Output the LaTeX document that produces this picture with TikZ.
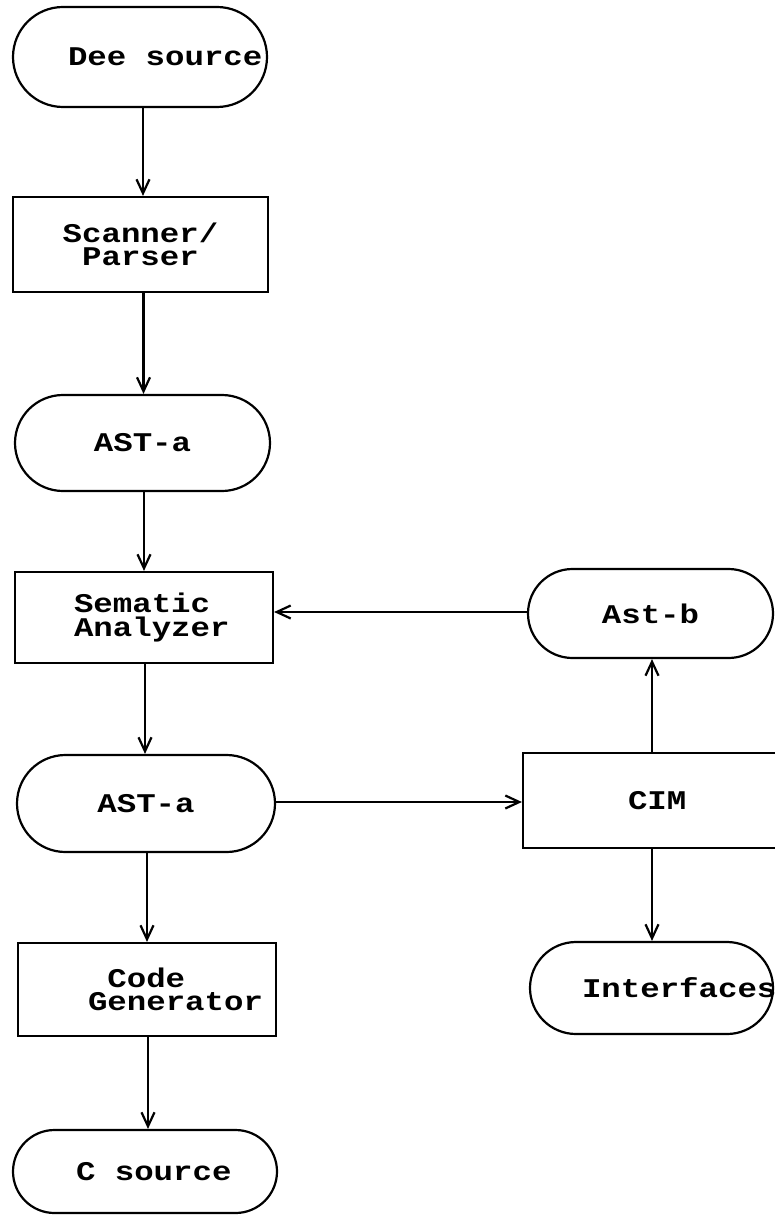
\documentclass[tikz,border=0pt]{standalone}
\usepackage{fontspec}
\newfontfamily\diafont{Liberation Mono}[FakeStretch=1.2]
\newcommand{\msp}{\hspace*{19.4pt}}
\usetikzlibrary{arrows.meta}
\begin{document}
\begin{tikzpicture}[x=1pt,y=-1pt,
  every node/.style={font=\diafont\bfseries\fontsize{27}{23.5}\selectfont, line width=2.2pt, inner sep=0pt},
  box/.style={draw, rectangle},
  term/.style={draw, rectangle, rounded corners=#1},
  arr/.style={draw, line width=2.2pt, -{Straight Barb[length=14pt,width=13pt,line width=2.2pt]}}
]
\useasboundingbox (0,0) rectangle (775,1222);
\clip (0,0) rectangle (775,1222);

\node[term=50pt, minimum width=254pt, minimum height=100pt, text width=144pt, align=left] (dee) at (140,57) {\raisebox{-4pt}{Dee\msp source}};
\node[box, minimum width=255pt, minimum height=95pt, align=center] (scan) at (140.5,244.5) {Scanner/\\Parser};
\node[term=48pt, minimum width=255pt, minimum height=96pt] (asta1) at (142.5,443) {AST-a};
\node[box, minimum width=258pt, minimum height=91pt, text width=140pt, align=left] (sem) at (144,617.5) {Sematic\\Analyzer};
\node[term=44.5pt, minimum width=245pt, minimum height=89pt] (astb) at (650.5,613.5) {Ast-b};
\node[term=48.5pt, minimum width=258pt, minimum height=97pt] (asta2) at (146,803.5) {AST-a};
\node[box, minimum width=258pt, minimum height=95pt, text width=48pt, align=left] (cim) at (652,800.5) {CIM};
\node[box, minimum width=258pt, minimum height=93pt, text width=118pt, align=left] (code) at (147,989.5) {\msp Code\\Generator};
\node[term=46pt, minimum width=243pt, minimum height=92pt, text width=139pt, align=left] (intf) at (651.5,988) {Interfaces};
\node[term=41.5pt, minimum width=264pt, minimum height=83pt, text width=138pt, align=left] (csrc) at (145,1171.5) {\mbox{C\msp source}};

\draw[arr] (dee.south) ++(3pt,0) coordinate (d1) -- (d1 |- scan.north);
\draw[arr] (scan.south) ++(3pt,0) coordinate (s1) -- (s1 |- asta1.north);
\draw[arr] (asta1.south) ++(1.5pt,0) coordinate (a1) -- (a1 |- sem.north);
\draw[arr] (astb.west) ++(0,1.5pt) coordinate (b1) -- (b1 -| sem.east);
\draw[arr] (sem.south) ++(1pt,0) coordinate (m1) -- (m1 |- asta2.north);
\draw[arr] (asta2.east) ++(0,1.5pt) coordinate (e1) -- (e1 -| cim.west);
\draw[arr] (cim.north) -- (cim.north |- astb.south);
\draw[arr] (cim.south) -- (cim.south |- intf.north);
\draw[arr] (asta2.south) ++(1pt,0) coordinate (a2) -- (a2 |- code.north);
\draw[arr] (code.south) ++(1pt,0) coordinate (c1) -- (c1 |- csrc.north);
\end{tikzpicture}
\end{document}
